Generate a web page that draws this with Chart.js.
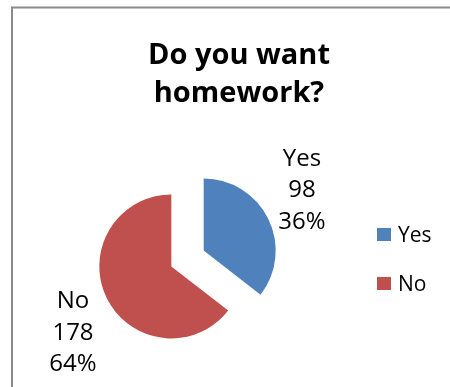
<!DOCTYPE html>
<html>
<head>
<meta charset="utf-8">
<script src="https://cdn.jsdelivr.net/npm/chart.js@4/dist/chart.umd.min.js"></script>
<style>
  html, body { margin: 0; padding: 0; background: #ffffff; }
  #wrap { position: relative; width: 450px; height: 387px; }
</style>
</head>
<body>
<div id="wrap"><canvas id="c" width="450" height="387"></canvas></div>
<script>
// Survey answers
const categories = ['Yes', 'No'];
const counts = [98, 178];
const titleLines = ['Do you want', 'homework?'];
const sliceColors = ['#4F81BD', '#C0504D'];

const FONT = '"Open Sans", Lato, sans-serif';
const EXPLODE = 18; // distance each slice is pulled out from the centre

// Pull every slice out along its bisector without enlarging its radius.
const baseArcDraw = Chart.ArcElement.prototype.draw;
Chart.ArcElement.prototype.draw = function (ctx) {
  const mid = (this.startAngle + this.endAngle) / 2;
  ctx.save();
  ctx.translate(Math.cos(mid) * EXPLODE, Math.sin(mid) * EXPLODE);
  baseArcDraw.call(this, ctx);
  ctx.restore();
};

const total = counts.reduce((a, b) => a + b, 0);
const percents = counts.map(v => Math.round(v / total * 100) + '%');

const decor = {
  id: 'decor',
  beforeDraw(chart) {
    const ctx = chart.ctx;
    ctx.save();
    ctx.fillStyle = '#ffffff';
    ctx.fillRect(0, 0, chart.width, chart.height);
    // chart frame (left and top edges visible)
    ctx.strokeStyle = '#8a8a8a';
    ctx.lineWidth = 2;
    ctx.beginPath();
    ctx.moveTo(12, chart.height + 2);
    ctx.lineTo(12, 7.5);
    ctx.lineTo(chart.width + 2, 7.5);
    ctx.stroke();
    ctx.restore();
  },
  afterDraw(chart) {
    const ctx = chart.ctx;
    const meta = chart.getDatasetMeta(0);
    ctx.save();
    ctx.fillStyle = '#000000';

    // title
    ctx.font = 'bold 29px ' + FONT;
    ctx.textAlign = 'center';
    ctx.textBaseline = 'alphabetic';
    titleLines.forEach((t, i) => ctx.fillText(t, 239, 64 + i * 38));

    // outside data labels: category, value, percent
    ctx.font = '24px ' + FONT;
    meta.data.forEach((arc, i) => {
      const p = arc.getProps(['x', 'y', 'startAngle', 'endAngle'], true);
      const mid = (p.startAngle + p.endAngle) / 2;
      const lx = p.x + Math.cos(mid) * 127.5;
      const ly = p.y + Math.sin(mid) * 162;
      const lines = [categories[i], String(counts[i]), percents[i]];
      lines.forEach((t, j) => ctx.fillText(t, lx, ly + 10 + (j - 1) * 31.5));
    });

    // legend
    ctx.font = '21px ' + FONT;
    ctx.textAlign = 'left';
    categories.forEach((c, i) => {
      const y = 228 + i * 49;
      ctx.fillStyle = sliceColors[i];
      ctx.fillRect(377, y, 14, 13);
      ctx.fillStyle = '#000000';
      ctx.fillText(c, 398, y + 14);
    });
    ctx.restore();
  }
};

new Chart(document.getElementById('c'), {
  type: 'pie',
  data: {
    labels: categories,
    datasets: [{
      data: counts,
      backgroundColor: sliceColors,
      borderWidth: 0,
      offset: 0,
      hoverOffset: 0
    }]
  },
  options: {
    responsive: false,
    animation: false,
    radius: 72,
    layout: { padding: { left: 100, right: 175, top: 171, bottom: 41 } },
    plugins: {
      legend: { display: false },
      title: { display: false },
      tooltip: { enabled: false }
    },
    events: []
  },
  plugins: [decor]
});
</script>
</body>
</html>
